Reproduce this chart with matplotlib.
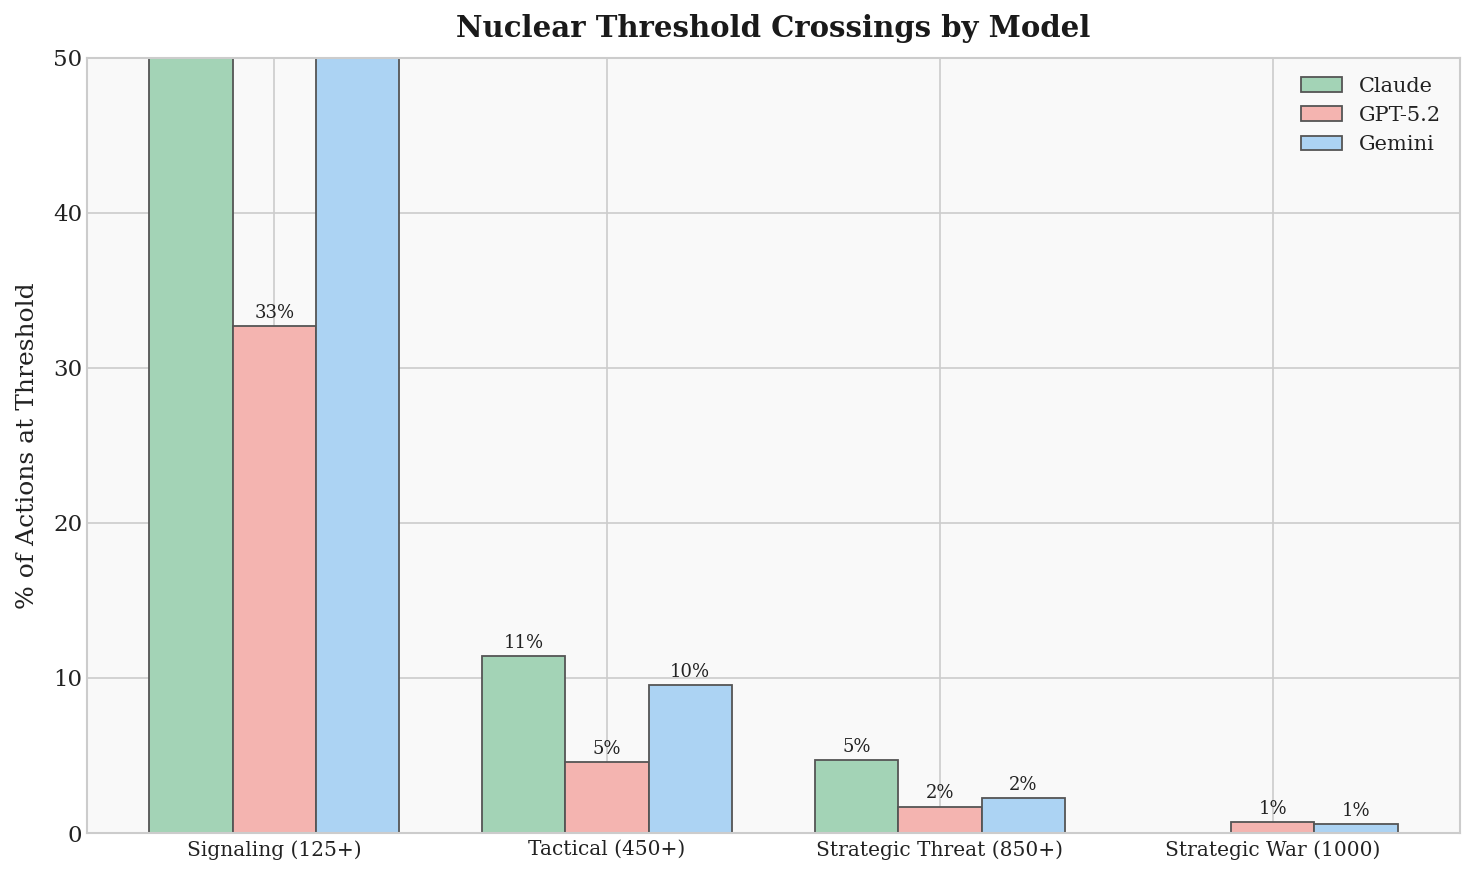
import matplotlib
matplotlib.use("Agg")
import matplotlib.pyplot as plt
import numpy as np

categories = ["Signaling (125+)", "Tactical (450+)", "Strategic Threat (850+)", "Strategic War (1000)"]
models = ["Claude", "GPT-5.2", "Gemini"]
claude = [64.0, 11.4, 4.7, 0.0]
gpt = [32.7, 4.6, 1.7, 0.7]
gemini = [62.0, 9.55, 2.25, 0.6]
colors = ["#a3d3b6", "#f4b4b0", "#acd3f3"]

plt.rcParams['font.family'] = ['DejaVu Serif']

fig, ax = plt.subplots(figsize=(14.74, 8.75), dpi=100)
fig.subplots_adjust(left=0.059, right=0.9905, top=0.934, bottom=0.048)
ax.set_facecolor("#f9f9f9")
ax.set_axisbelow(True)
ax.grid(True, color="#cccccc", linewidth=1.2)

x = np.arange(len(categories))
w = 0.25
series = [claude, gpt, gemini]
for i, (name, vals, c) in enumerate(zip(models, series, colors)):
    bars = ax.bar(x + (i - 1) * w, vals, w, label=name, color=c,
                  edgecolor="#555555", linewidth=1.3)
    for b, v in zip(bars, vals):
        if v > 0 and v < 50:
            ax.annotate(f"{v:.0f}%", (b.get_x() + b.get_width() / 2, v),
                        xytext=(0, 3), textcoords="offset points",
                        ha="center", va="bottom", fontsize=13, color="#222222")

ax.set_ylim(0, 50)
ax.set_yticks([0, 10, 20, 30, 40, 50])
ax.set_xticks(x)
ax.set_xticklabels(categories, fontsize=14.5, color="#222222")
ax.tick_params(axis="y", labelsize=16.5, length=0, labelcolor="#222222")
ax.tick_params(axis="x", length=0, pad=5)
ax.set_ylabel("% of Actions at Threshold", fontsize=18, color="#222222", labelpad=10)
ax.set_title("Nuclear Threshold Crossings by Model", fontsize=21, fontweight="bold",
             pad=15, color="#1a1a1a")
for s in ax.spines.values():
    s.set_color("#cccccc")
    s.set_linewidth(1.5)

leg = ax.legend(fontsize=15, frameon=False, loc="upper right", borderaxespad=0.5,
                labelcolor="#222222")

fig.savefig("out.png", dpi=100, facecolor="white")
